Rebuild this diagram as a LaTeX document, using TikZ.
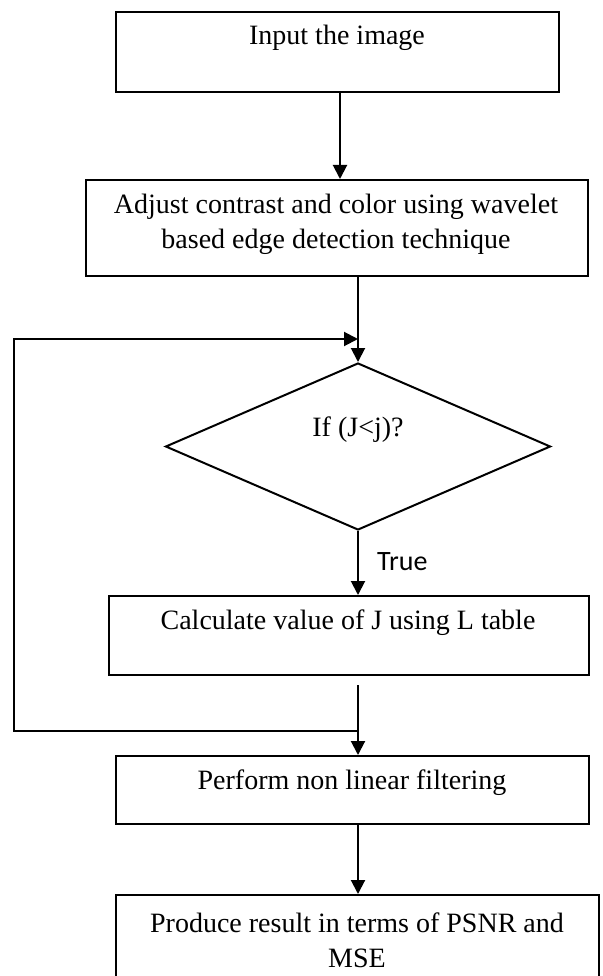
\documentclass[tikz,border=0pt]{standalone}
\usepackage{fontspec}
\setmainfont{Liberation Serif}
\newfontfamily\truefont{Carlito}
\usetikzlibrary{shapes.geometric,arrows.meta}
\begin{document}
\begin{tikzpicture}[x=1pt,y=-1pt,
  boxst/.style={draw,line width=2pt,rectangle,inner sep=0pt,anchor=north west},
  txt/.style={inner sep=0pt,align=center,font=\fontsize{28}{35}\selectfont},
  conn/.style={line width=2pt},
  arr/.style={line width=2pt,-{Triangle[length=14pt,width=14pt]}}]
\useasboundingbox (0,0) rectangle (602,976);
\clip (0,0) rectangle (602,976);
% boxes
\node[boxst,minimum width=443pt,minimum height=80pt] (b1) at (115,11) {};
\node[boxst,minimum width=502pt,minimum height=96pt] (b2) at (85,179) {};
\node[draw,line width=2pt,diamond,inner sep=0pt,minimum width=385pt,minimum height=167pt] (d) at (358,446.5) {};
\node[boxst,minimum width=480pt,minimum height=79pt] (b3) at (108,595) {};
\node[boxst,minimum width=473pt,minimum height=68pt] (b4) at (115,755) {};
\node[boxst,minimum width=483pt,minimum height=100pt] (b5) at (115,894) {};
% texts
\node[txt] (t1) at (337,38) {Input the image};
\node[txt] (t2) at (336,224.5) {Adjust contrast and color using wavelet\\based edge detection technique};
\node[txt] (t3) at (358,430) {If (J<j)?};
\node[txt] (t4) at (348,623) {Calculate value of J using L table};
\node[txt] (t5) at (352,783) {Perform non linear filtering};
\node[txt] (t6) at (357,940) {Produce result in terms of PSNR and\\MSE};
\node[inner sep=0pt,anchor=west,font=\truefont\fontsize{28}{34}\selectfont] (tt) at (377,562) {True};
% coordinates
\coordinate (a1s) at (340,91);
\coordinate (a1e) at (340,179);
\coordinate (c2) at (358,275);
\coordinate (j1) at (358,339);
\coordinate (l1) at (14,339);
\coordinate (l2) at (14,731);
\coordinate (j2) at (358,731);
\coordinate (c3) at (358,685);
\coordinate (c4) at (358,823);
\coordinate (c5) at (358,894);
\coordinate (c4t) at (358,755);
% connectors
\draw[arr] (a1s) -- (a1e);
\draw[arr] (c2) -- (d.north);
\draw[arr] (j2) -- (l2) -- (l1) -- (j1);
\draw[arr] (d.south) -- (d.south |- b3.north);
\draw[arr] (c3) -- (c4t);
\draw[arr] (c4) -- (c5);
\end{tikzpicture}
\end{document}
